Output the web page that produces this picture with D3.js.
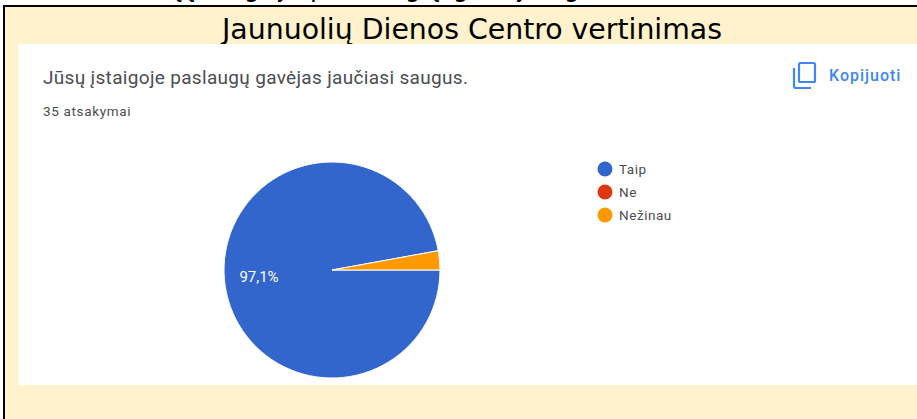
<!DOCTYPE html>
<html>
<head>
<meta charset="utf-8">
<script src="https://cdn.jsdelivr.net/npm/d3@7"></script>
<style>
  html, body { margin: 0; padding: 0; background: #fff; overflow: hidden; }
</style>
</head>
<body>
<script>
const categories = ["Taip", "Ne", "Nežinau"];
const values = [34, 0, 1];
const colors = ["#3366cc", "#dc3912", "#ff9900"];
const pageTitle = "Jaunuolių Dienos Centro vertinimas";
const question = "Jūsų įstaigoje paslaugų gavėjas jaučiasi saugus.";
const answers = "35 atsakymai";
const copyLabel = "Kopijuoti";
// the line above the table is cut off by the crop, only these tails show
const cutGlyphs = ["ų", "į", "g", "j", "p", "g", "į", "g", "j", "g"];
const cutGlyphX = [174, 191, 252, 282, 318, 413, 436, 461, 521, 572];

const width = 917, height = 419;

const svg = d3.select("body").append("svg")
  .attr("width", width)
  .attr("height", height)
  .style("display", "block");

// page background and table borders
svg.append("rect").attr("width", width).attr("height", height).attr("fill", "#fff");
svg.append("rect").attr("x", 5).attr("y", 7).attr("width", width - 5).attr("height", height - 7).attr("fill", "#fff2cc");
svg.append("rect").attr("x", 3).attr("y", 5).attr("width", width - 3).attr("height", 2).attr("fill", "#000");
svg.append("rect").attr("x", 3).attr("y", 5).attr("width", 2).attr("height", height - 5).attr("fill", "#000");

svg.selectAll(".cut")
  .data(cutGlyphs)
  .enter()
  .append("text")
  .attr("class", "cut")
  .attr("x", (d, i) => cutGlyphX[i])
  .attr("y", -4)
  .attr("text-anchor", "middle")
  .style("font-family", "'DejaVu Sans Condensed', 'DejaVu Sans', sans-serif")
  .style("font-stretch", "condensed")
  .style("font-size", "28px")
  .text((d) => d);

svg.append("text")
  .attr("x", 472).attr("y", 39)
  .attr("text-anchor", "middle")
  .style("font-family", "'DejaVu Sans Condensed', 'DejaVu Sans', sans-serif")
  .style("font-stretch", "condensed")
  .style("font-size", "29px")
  .attr("textLength", 500)
  .attr("lengthAdjust", "spacingAndGlyphs")
  .text(pageTitle);

// white card
svg.append("rect").attr("x", 18).attr("y", 44).attr("width", width - 18).attr("height", 341).attr("fill", "#fff");

svg.append("text")
  .attr("x", 43).attr("y", 84)
  .style("font-family", "Roboto, sans-serif")
  .style("font-size", "19px")
  .style("letter-spacing", "0.32px")
  .attr("fill", "#4a4d52")
  .text(question);

svg.append("text")
  .attr("x", 43).attr("y", 116)
  .style("font-family", "Roboto, sans-serif")
  .style("font-size", "13.5px")
  .style("letter-spacing", "0.65px")
  .attr("fill", "#4a4d52")
  .text(answers);

// copy icon
const icon = svg.append("g").attr("fill", "none").attr("stroke", "#4285f4").attr("stroke-width", 2.2);
icon.append("rect").attr("x", 799).attr("y", 63).attr("width", 16).attr("height", 19).attr("rx", 1.5);
icon.append("path").attr("d", "M794 68v18a2 2 0 0 0 2 2h15");

svg.append("text")
  .attr("x", 829).attr("y", 81)
  .style("font-family", "Roboto, sans-serif")
  .style("font-size", "16px")
  .style("font-weight", 500)
  .style("letter-spacing", "1px")
  .attr("fill", "#4285f4")
  .text(copyLabel);

// pie, first slice starts at 3 o'clock here because the reference does
const cx = 332, cy = 270, radius = 108;
const total = d3.sum(values);
const pie = d3.pie().sort(null).startAngle(Math.PI / 2).endAngle(Math.PI * 2.5);
const arc = d3.arc().innerRadius(0).outerRadius(radius);

const g = svg.append("g").attr("transform", `translate(${cx},${cy})`);
g.selectAll("path")
  .data(pie(values))
  .enter()
  .append("path")
  .attr("d", arc)
  .attr("fill", (d, i) => colors[i])
  .attr("stroke", "#fff")
  .attr("stroke-width", (d) => d.value > 0 ? 1 : 0);

// only the big slice gets a label
const fmt = (v) => (v / total * 100).toFixed(1).replace(".", ",") + "%";
svg.append("text")
  .attr("x", 259).attr("y", 282)
  .attr("text-anchor", "middle")
  .style("font-family", "Roboto, sans-serif")
  .style("font-size", "15px")
  .attr("fill", "#fff")
  .text(fmt(values[0]));

// legend
const legendY = d3.scalePoint().domain(categories).range([169, 215]);
const legend = svg.selectAll(".legend")
  .data(categories)
  .enter()
  .append("g")
  .attr("class", "legend")
  .attr("transform", (d) => `translate(605,${legendY(d)})`);
legend.append("circle")
  .attr("r", 7.5)
  .attr("fill", (d, i) => colors[i]);
legend.append("text")
  .attr("x", 14).attr("y", 4.5)
  .style("font-family", "Roboto, sans-serif")
  .style("font-size", "13.5px")
  .style("letter-spacing", "0.55px")
  .attr("fill", "#4a4d52")
  .text((d) => d);
</script>
</body>
</html>
